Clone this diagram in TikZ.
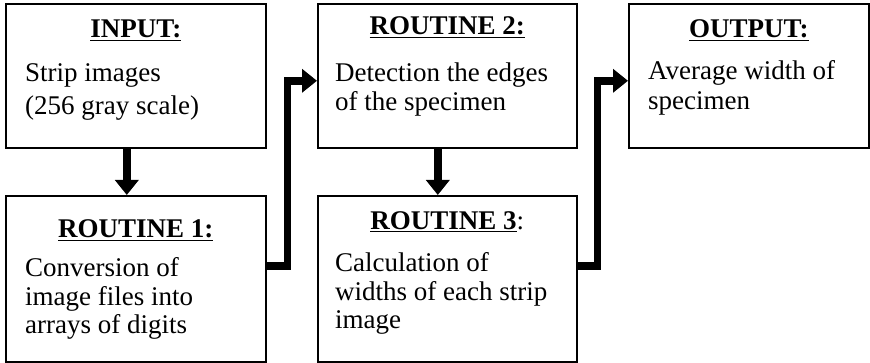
\documentclass[tikz,border=0pt]{standalone}
\usepackage{fontspec}
\setmainfont{Liberation Serif}
\usetikzlibrary{arrows.meta,calc,positioning}

\tikzset{
  box/.style={draw, line width=1.6pt, minimum width=260pt, anchor=north west, inner sep=0pt},
  head/.style={font=\fontsize{27}{28}\selectfont\bfseries, anchor=base, inner sep=0pt},
  body/.style={font=\fontsize{27}{28.5}\selectfont, anchor=base west, inner sep=0pt},
  flow/.style={line width=7.5pt, -{Triangle[length=15pt,width=23pt]}}
}
\newcommand{\lines}[1]{\begin{tabular}[t]{@{}l@{}}#1\end{tabular}}

\begin{document}
\begin{tikzpicture}[x=1pt,y=-1pt]
    \useasboundingbox (0,0) rectangle (870,363);
    % Boxes
    \node[box, minimum height=144pt] (in) at (5,3) {};
    \node[box, minimum height=166pt] (r1) at (5,195) {};
    \node[box, minimum height=144pt, minimum width=259pt] (r2) at (317,3) {};
    \node[box, minimum height=166pt, minimum width=259pt] (r3) at (317,195) {};
    \node[box, minimum height=144pt, minimum width=240pt] (out) at (628,3) {};
    % Titles
    \node[head] (inH) at ([yshift=-35pt]in.north) {\underline{INPUT:}};
    \node[head] (r1H) at ([yshift=-43pt]r1.north) {\underline{ROUTINE 1:}};
    \node[head] (r2H) at ([yshift=-32pt]r2.north) {\underline{ROUTINE 2:}};
    \node[head] (r3H) at ([yshift=-35pt]r3.north) {\underline{ROUTINE 3}\textmd{:}};
    \node[head] (outH) at ([yshift=-35pt]out.north) {\underline{OUTPUT:}};
    % Texts
    \node[body] (inB) at ([xshift=20pt,yshift=-79pt]in.north west)
         {\lines{Strip images\\[4.5pt](256 gray scale)}};
    \node[body] (r1B) at ([xshift=20pt,yshift=-82pt]r1.north west)
         {\lines{Conversion of\\image files into\\arrays of digits}};
    \node[body] (r2B) at ([xshift=18pt,yshift=-79pt]r2.north west)
         {\lines{Detection the edges\\of the specimen}};
    \node[body] (r3B) at ([xshift=18pt,yshift=-77pt]r3.north west)
         {\lines{Calculation of\\widths of each strip\\image}};
    \node[body] (outB) at ([xshift=20pt,yshift=-77pt]out.north west)
         {\lines{Average width of\\[1.5pt]specimen}};
    % Arrows
    \draw[flow] ([xshift=-9pt]in.south) -- ([xshift=-9pt]r1.north);
    \draw[flow] ([xshift=-9.5pt]r2.south) -- ([xshift=-9.5pt]r3.north);
    \draw[flow] ([yshift=13pt]r1.east) -- ++(21,0) |- ([yshift=-5pt]r2.west);
    \draw[flow] ([yshift=13pt]r3.east) -- ++(20,0) |- ([yshift=-5pt]out.west);
\end{tikzpicture}
\end{document}
